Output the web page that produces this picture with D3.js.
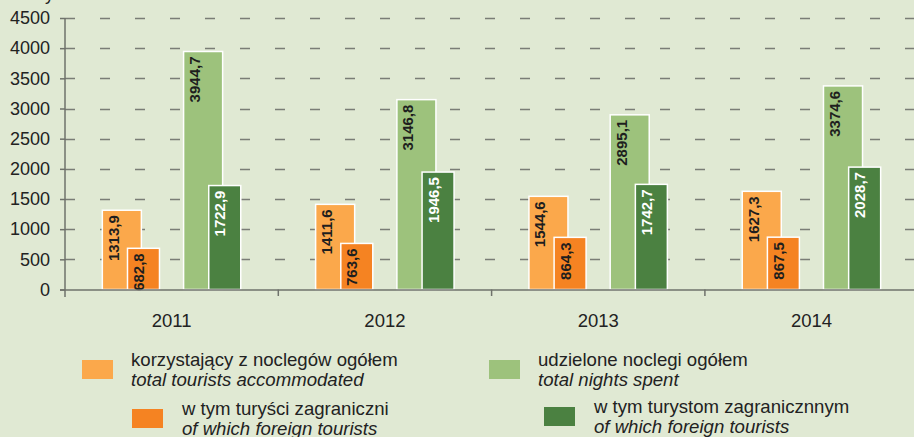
<!DOCTYPE html>
<html>
<head>
<meta charset="utf-8">
<script src="https://cdn.jsdelivr.net/npm/d3@7"></script>
<style>
  html, body { margin: 0; padding: 0; background: #e0e9d3; }
  svg { display: block; font-family: "Liberation Sans", Arial, sans-serif; }
</style>
</head>
<body>
<svg id="chart" width="914" height="437"></svg>
<script>
// Tourists accommodated and nights spent (thousands), 2011–2014
const years = ["2011", "2012", "2013", "2014"];
const touristsTotal = [1313.9, 1411.6, 1544.6, 1627.3];
const touristsForeign = [682.8, 763.6, 864.3, 867.5];
const nightsTotal = [3944.7, 3146.8, 2895.1, 3374.6];
const nightsForeign = [1722.9, 1946.5, 1742.7, 2028.7];
const yTicks = [0, 500, 1000, 1500, 2000, 2500, 3000, 3500, 4000, 4500];

const legendLabels = [
  ["korzystający z noclegów ogółem", "total tourists accommodated"],
  ["w tym turyści zagraniczni", "of which foreign tourists"],
  ["udzielone noclegi ogółem", "total nights spent"],
  ["w tym turystom zagranicznnym", "of which foreign tourists"]
];

// Series styling and placement inside each year band (fractions of the band)
const series = [
  { values: touristsTotal,   fill: "#fba84b", text: "#1e1e1e", off: 0.175, w: 0.183 },
  { values: touristsForeign, fill: "#f58322", text: "#1e1e1e", off: 0.293, w: 0.150 },
  { values: nightsTotal,     fill: "#9dc27c", text: "#1e1e1e", off: 0.556, w: 0.183 },
  { values: nightsForeign,   fill: "#4b8141", text: "#ffffff", off: 0.674, w: 0.150 }
];

const svg = d3.select("#chart");
const left = 65, baseY = 289.5, topY = 18;

const x = d3.scaleBand().domain(years).range([left, left + 4 * 213.3]).padding(0);
const y = d3.scaleLinear().domain([0, 4500]).range([baseY, topY]);

// unit caption above the value axis (only its lower part falls inside the frame)
svg.append("text").attr("x", 22).attr("y", -0.5)
  .attr("font-size", 18).attr("fill", "#222").text("w tys.");

// dashed gridlines
svg.append("g").selectAll("line").data(yTicks.slice(1)).join("line")
  .attr("x1", left).attr("x2", 914)
  .attr("y1", d => Math.round(y(d)) + 0.5).attr("y2", d => Math.round(y(d)) + 0.5)
  .attr("stroke", "#7a7d76").attr("stroke-width", 1.5)
  .attr("stroke-dasharray", "10,25");

// value axis
const yAxis = svg.append("g").attr("transform", `translate(${left},0)`)
  .call(d3.axisLeft(y).tickValues(yTicks).tickSize(5).tickPadding(10).tickFormat(d3.format("d")));
yAxis.select(".domain").remove();
yAxis.selectAll(".tick line").attr("stroke", "#6f726b").attr("stroke-width", 1.5);
yAxis.selectAll("text").attr("font-size", 18).attr("fill", "#222")
  .attr("font-family", "'Liberation Sans', Arial, sans-serif");
svg.append("line").attr("x1", left).attr("x2", left).attr("y1", topY).attr("y2", 297)
  .attr("stroke", "#6f726b").attr("stroke-width", 1.5);

// bars with rotated value labels
const barGroup = svg.append("g");
series.forEach(s => {
  const bw = x.bandwidth();
  const g = barGroup.append("g");
  g.selectAll("rect").data(years).join("rect")
    .attr("x", d => x(d) + s.off * bw)
    .attr("width", s.w * bw)
    .attr("y", (d, i) => y(s.values[i]))
    .attr("height", (d, i) => y(0) - y(s.values[i]))
    .attr("fill", s.fill)
    .attr("stroke", "#ffffff").attr("stroke-width", 1.5);
  g.selectAll("text").data(years).join("text")
    .attr("transform", (d, i) =>
      `translate(${x(d) + s.off * bw + 11},${y(s.values[i]) + 5}) rotate(-90)`)
    .attr("text-anchor", "end")
    .attr("dominant-baseline", "central")
    .attr("font-size", 15).attr("font-weight", "bold")
    .attr("fill", s.text)
    .text((d, i) => d3.format(".1f")(s.values[i]).replace(".", ","));
});

// category axis
svg.append("line").attr("x1", left - 5).attr("x2", 914).attr("y1", baseY + 0.5).attr("y2", baseY + 0.5)
  .attr("stroke", "#6f726b").attr("stroke-width", 1.5);
svg.append("g").selectAll("line").data(years.slice(1)).join("line")
  .attr("x1", d => x(d)).attr("x2", d => x(d))
  .attr("y1", baseY).attr("y2", 296)
  .attr("stroke", "#6f726b").attr("stroke-width", 1.5);
svg.append("g").selectAll("text").data(years).join("text")
  .attr("x", d => x(d) + x.bandwidth() / 2).attr("y", 327)
  .attr("text-anchor", "middle").attr("font-size", 18.5).attr("fill", "#222")
  .text(d => d);

// legend
const legendPos = [
  { sx: 82, sy: 360, tx: 131, ty: 366 },
  { sx: 132, sy: 409, tx: 182, ty: 415 },
  { sx: 489, sy: 360, tx: 538, ty: 366 },
  { sx: 544, sy: 407, tx: 594, ty: 413 }
];
const legend = svg.append("g");
legendLabels.forEach((lab, i) => {
  const p = legendPos[i];
  legend.append("rect").attr("x", p.sx).attr("y", p.sy).attr("width", 31).attr("height", 19)
    .attr("fill", series[i].fill);
  legend.append("text").attr("x", p.tx).attr("y", p.ty)
    .attr("font-size", 18.6).attr("fill", "#222").text(lab[0]);
  legend.append("text").attr("x", p.tx).attr("y", p.ty + 19.5)
    .attr("font-size", 18.6).attr("font-style", "italic").attr("fill", "#222").text(lab[1]);
});
</script>
</body>
</html>
